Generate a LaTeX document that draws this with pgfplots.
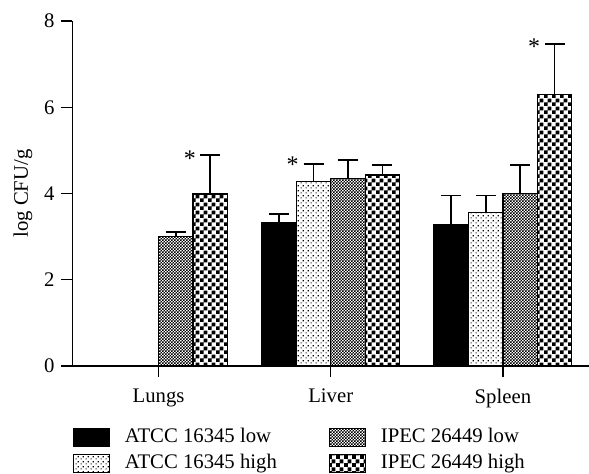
\documentclass[border=0pt]{standalone}
\usepackage{fontspec}
\setmainfont{Liberation Serif}
\usepackage{pgfplots}
\pgfplotsset{compat=1.18}
\usetikzlibrary{patterns}
\pgfdeclarepatternformonly{sparsedots}{\pgfqpoint{0bp}{0bp}}{\pgfqpoint{2.5bp}{2.5bp}}{\pgfqpoint{2.5bp}{2.5bp}}{%
 \pgfpathrectangle{\pgfqpoint{0.3bp}{0.3bp}}{\pgfqpoint{0.7bp}{0.7bp}}%
 \pgfpathrectangle{\pgfqpoint{1.55bp}{1.55bp}}{\pgfqpoint{0.7bp}{0.7bp}}%
 \pgfusepath{fill}}
\pgfdeclarepatternformonly{finechecker}{\pgfqpoint{0bp}{0bp}}{\pgfqpoint{1.5bp}{1.5bp}}{\pgfqpoint{1.5bp}{1.5bp}}{%
 \pgfpathrectangle{\pgfqpoint{0bp}{0bp}}{\pgfqpoint{0.85bp}{0.85bp}}%
 \pgfpathrectangle{\pgfqpoint{0.75bp}{0.75bp}}{\pgfqpoint{0.85bp}{0.85bp}}%
 \pgfusepath{fill}}
\pgfdeclarepatternformonly{coarsechecker}{\pgfqpoint{0bp}{0bp}}{\pgfqpoint{4bp}{4bp}}{\pgfqpoint{4bp}{4bp}}{%
 \pgfpathrectangle{\pgfqpoint{0bp}{0bp}}{\pgfqpoint{2.1bp}{2.1bp}}%
 \pgfpathrectangle{\pgfqpoint{2bp}{2bp}}{\pgfqpoint{2.1bp}{2.1bp}}%
 \pgfusepath{fill}}
\begin{document}
\begin{tikzpicture}[font=\fontsize{10.4}{12.5}\selectfont]
\useasboundingbox (-36.25bp,-54bp) rectangle (258.25bp,183bp);
\begin{axis}[
 at={(0,0)}, anchor=south west,
 width=258.25bp, height=172.5bp, scale only axis,
 xmin=-0.5, xmax=2.5, ymin=0, ymax=8,
 axis lines*=left,
 axis line style={line width=0.6bp},
 tick style={line width=0.6bp, black},
 tick align=outside,
 major tick length=5.5bp,
 xtick={0,1,2}, xticklabels={Lungs,Liver,Spleen},
 xticklabel style={yshift=-2.5bp},
 ytick={0,2,4,6,8},
 /pgf/number format/assume math mode=true,
 ylabel={log CFU/g},
 ylabel style={at={(axis description cs:0,0.5)}, anchor=center, yshift=24.75bp},
 ybar=0pt, bar width=0.2,
 legend columns=2, transpose legend,
 legend image code/.code={\draw[#1,line width=0.5bp] (0bp,-4.5bp) rectangle (18bp,4.5bp);},
 legend style={at={(axis description cs:0,0)}, anchor=north west, yshift=-30bp,
   draw=none, fill=none, inner sep=0pt, row sep=2bp,
   nodes={inner sep=1bp, text height=7bp, text depth=2bp},
   /tikz/every odd column/.append style={column sep=6.5bp},
   /tikz/column 2/.style={column sep=25bp}},
 legend cell align=left,
]
\addplot[fill=black, draw=black, line width=0.6bp,
 error bars/.cd, y dir=plus, y explicit,
 error bar style={line width=0.8bp,black},
 error mark options={rotate=90, mark size=5bp, line width=0.8bp, black}]
 coordinates {(1,3.32) +- (0,0.21) (2,3.27) +- (0,0.68)};
\addlegendentry{ATCC 16345 low}
\addplot[pattern=sparsedots, draw=black, line width=0.6bp,
 error bars/.cd, y dir=plus, y explicit,
 error bar style={line width=0.8bp,black},
 error mark options={rotate=90, mark size=5bp, line width=0.8bp, black}]
 coordinates {(1,4.27) +- (0,0.42) (2,3.56) +- (0,0.39)};
\addlegendentry{ATCC 16345 high}
\addplot[pattern=finechecker, draw=black, line width=0.6bp,
 error bars/.cd, y dir=plus, y explicit,
 error bar style={line width=0.8bp,black},
 error mark options={rotate=90, mark size=5bp, line width=0.8bp, black}]
 coordinates {(0,3.01) +- (0,0.10) (1,4.34) +- (0,0.44) (2,4.00) +- (0,0.66)};
\addlegendentry{IPEC 26449 low}
\addplot[pattern=coarsechecker, draw=black, line width=0.6bp,
 error bars/.cd, y dir=plus, y explicit,
 error bar style={line width=0.8bp,black},
 error mark options={rotate=90, mark size=5bp, line width=0.8bp, black}]
 coordinates {(0,3.99) +- (0,0.90) (1,4.43) +- (0,0.23) (2,6.29) +- (0,1.18)};
\addlegendentry{IPEC 26449 high}
\node[font=\fontsize{12}{12}\selectfont] at (axis cs:0.181,4.80) {*};
\node[font=\fontsize{12}{12}\selectfont] at (axis cs:0.778,4.66) {*};
\node[font=\fontsize{12}{12}\selectfont] at (axis cs:2.181,7.41) {*};
\end{axis}
\end{tikzpicture}
\end{document}
